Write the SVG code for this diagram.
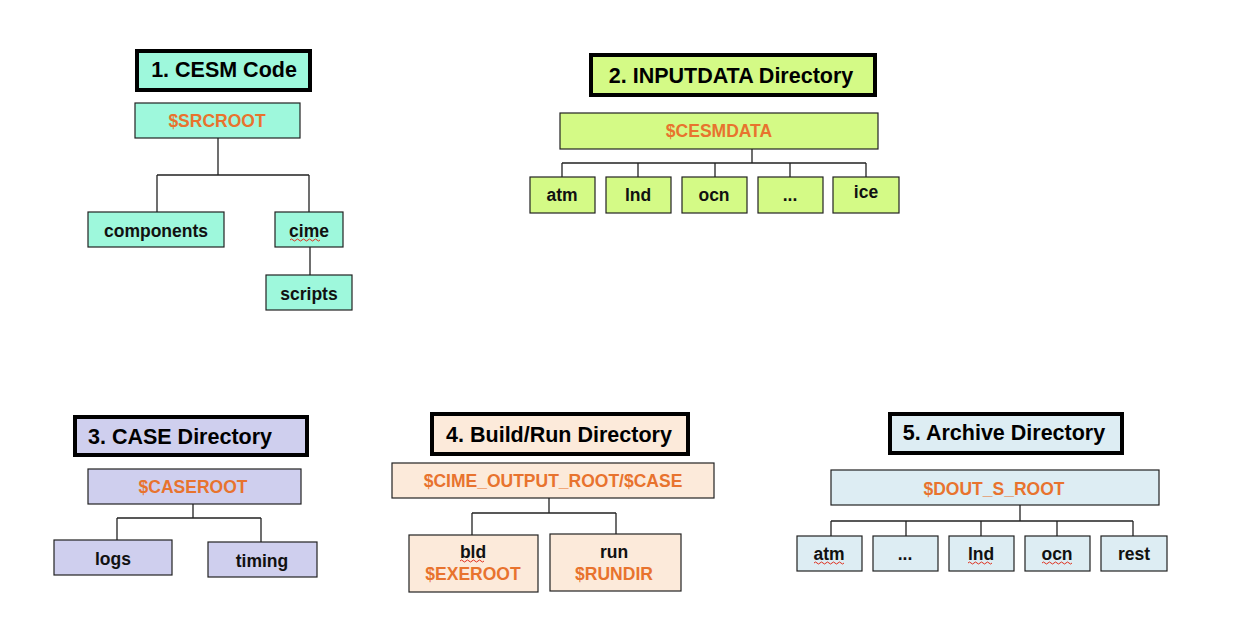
<svg xmlns="http://www.w3.org/2000/svg" width="1236" height="633" viewBox="0 0 1236 633">
<style>
.t{font-family:"Liberation Sans",Arial,sans-serif;font-weight:bold;font-size:21.5px;fill:#000;text-anchor:middle}
.n{font-family:"Liberation Sans",Arial,sans-serif;font-weight:bold;font-size:17.5px;fill:#111;text-anchor:middle}
.o{fill:#E8732E}
.tb{stroke:#000;stroke-width:4}
.nb{stroke:#222;stroke-width:1.2}
.c1{fill:#9EF8DC}.c2{fill:#D4FA86}.c3{fill:#CFCFEE}.c4{fill:#FCEADA}.c5{fill:#DDEDF3}
.ln{fill:none;stroke:#222;stroke-width:1.3}
.sq{fill:none;stroke:#E0301E;stroke-width:1}
</style>
<rect width="1236" height="633" fill="#fff"/>
<g id="connectors">
<path class="ln" d="M218 138V175M157 175H309M157 175V212M309 175V212M310 247V275"/>
<path class="ln" d="M752 149V163M562 163H866M562 163V177M638 163V177M715 163V177M790 163V177M866 163V177"/>
<path class="ln" d="M193 504V518M117 518H261M117 518V540M261 518V542"/>
<path class="ln" d="M549 498V513M472 513H616M472 513V535M616 513V534"/>
<path class="ln" d="M1020 505V521M831 521H1133M831 521V536M906 521V536M981 521V536M1057 521V536M1133 521V536"/>
</g>
<g id="title1"><rect class="tb c1" x="137" y="51" width="173" height="39"/><text class="t" x="224" y="77">1. CESM Code</text></g>
<g id="srcroot"><rect class="nb c1" x="135" y="103" width="165" height="35"/><text class="n o" x="217" y="127">$SRCROOT</text></g>
<g id="components"><rect class="nb c1" x="88" y="212" width="136" height="35"/><text class="n" x="156" y="237">components</text></g>
<g id="cime"><rect class="nb c1" x="275" y="212" width="68" height="35"/><text class="n" x="309" y="237">cime</text><path class="sq" d="M290 240q1.5-2 3 0t3 0t3 0t3 0t3 0t3 0t3 0t3 0t3 0t3 0"/></g>
<g id="scripts"><rect class="nb c1" x="266" y="275" width="86" height="35"/><text class="n" x="309" y="300">scripts</text></g>

<g id="title2"><rect class="tb c2" x="591" y="55" width="284" height="40"/><text class="t" x="731" y="83">2. INPUTDATA Directory</text></g>
<g id="cesmdata"><rect class="nb c2" x="560" y="113" width="318" height="36"/><text class="n o" x="719" y="137">$CESMDATA</text></g>
<g id="in_atm"><rect class="nb c2" x="530" y="177" width="65" height="36"/><text class="n" x="562" y="201">atm</text></g>
<g id="in_lnd"><rect class="nb c2" x="606" y="177" width="65" height="36"/><text class="n" x="638" y="201">lnd</text></g>
<g id="in_ocn"><rect class="nb c2" x="682" y="177" width="65" height="36"/><text class="n" x="714" y="201">ocn</text></g>
<g id="in_dots"><rect class="nb c2" x="758" y="177" width="65" height="36"/><text class="n" x="790" y="201">...</text></g>
<g id="in_ice"><rect class="nb c2" x="833" y="177" width="66" height="36"/><text class="n" x="866" y="198">ice</text></g>

<g id="title3"><rect class="tb c3" x="75" y="417" width="232" height="38"/><text class="t" x="88" y="444" style="text-anchor:start">3. CASE Directory</text></g>
<g id="caseroot"><rect class="nb c3" x="88" y="469" width="213" height="35"/><text class="n o" x="193" y="493">$CASEROOT</text></g>
<g id="logs"><rect class="nb c3" x="54" y="540" width="118" height="35"/><text class="n" x="113" y="565">logs</text></g>
<g id="timing"><rect class="nb c3" x="208" y="542" width="109" height="35"/><text class="n" x="262" y="567">timing</text></g>

<g id="title4"><rect class="tb c4" x="432" y="414" width="256" height="40"/><text class="t" x="559" y="442">4. Build/Run Directory</text></g>
<g id="outroot"><rect class="nb c4" x="392" y="463" width="322" height="35"/><text class="n o" x="553" y="487">$CIME_OUTPUT_ROOT/$CASE</text></g>
<g id="bld"><rect class="nb c4" x="409" y="535" width="129" height="57"/><text class="n" x="473" y="558">bld</text><text class="n o" x="473" y="580">$EXEROOT</text><path class="sq" d="M460 561q1.5-2 3 0t3 0t3 0t3 0t3 0t3 0t3 0t3 0"/></g>
<g id="run"><rect class="nb c4" x="550" y="534" width="131" height="57"/><text class="n" x="614" y="558">run</text><text class="n o" x="614" y="580">$RUNDIR</text></g>

<g id="title5"><rect class="tb c5" x="890" y="414" width="232" height="39"/><text class="t" x="1004" y="440">5. Archive Directory</text></g>
<g id="doutroot"><rect class="nb c5" x="831" y="470" width="328" height="35"/><text class="n o" x="994" y="495">$DOUT_S_ROOT</text></g>
<g id="ar_atm"><rect class="nb c5" x="797" y="536" width="65" height="35"/><text class="n" x="829" y="560">atm</text><path class="sq" d="M814 563q1.5-2 3 0t3 0t3 0t3 0t3 0t3 0t3 0t3 0t3 0t3 0"/></g>
<g id="ar_dots"><rect class="nb c5" x="873" y="536" width="65" height="35"/><text class="n" x="905" y="560">...</text></g>
<g id="ar_lnd"><rect class="nb c5" x="949" y="536" width="65" height="35"/><text class="n" x="981" y="560">lnd</text><path class="sq" d="M968 563q1.5-2 3 0t3 0t3 0t3 0t3 0t3 0t3 0t3 0"/></g>
<g id="ar_ocn"><rect class="nb c5" x="1025" y="536" width="65" height="35"/><text class="n" x="1057" y="560">ocn</text><path class="sq" d="M1042 563q1.5-2 3 0t3 0t3 0t3 0t3 0t3 0t3 0t3 0t3 0t3 0"/></g>
<g id="ar_rest"><rect class="nb c5" x="1101" y="536" width="66" height="35"/><text class="n" x="1134" y="560">rest</text></g>
</svg>
